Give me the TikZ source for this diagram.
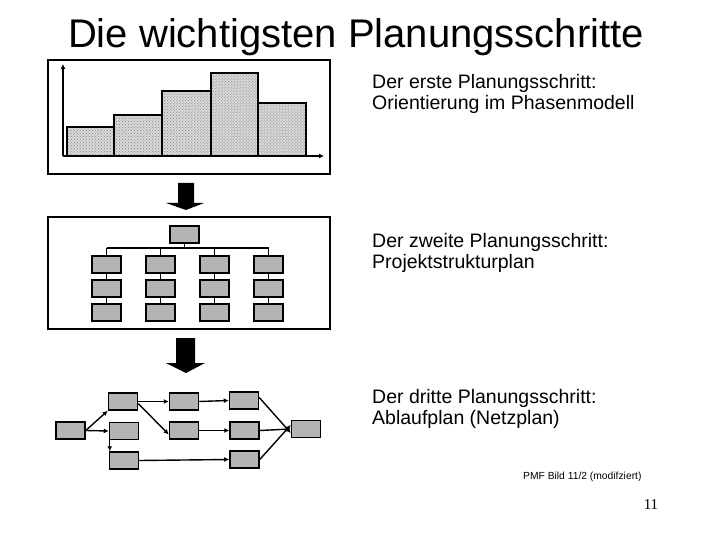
\documentclass[tikz,border=0pt]{standalone}
\usepackage{fontspec}
\setmainfont{Liberation Sans}
\newfontfamily\serifnum{Liberation Serif}
\usetikzlibrary{patterns,arrows.meta}
\definecolor{boxgray}{RGB}{180,180,180}
\begin{document}
\begin{tikzpicture}[x=1bp,y=-1bp,
  frame/.style={draw=black,line width=1.5bp},
  gbox/.style={draw=black,line width=1.5bp,fill=boxgray,inner sep=0pt},
  conn/.style={line width=1.3bp},
  arr/.style={line width=1.5bp,-{Latex[length=5bp,width=5bp]}},
  txt/.style={anchor=north west,align=left,font=\fontsize{19.5bp}{21bp}\selectfont,inner sep=0pt}]
\useasboundingbox (0,0) rectangle (720,540);
\node[font=\fontsize{40bp}{44bp}\selectfont] (title) at (356,37) {Die wichtigsten Planungsschritte};
% frame 1: chart
\draw[frame] (48,60) rectangle (330,174);
\foreach \a/\b/\t in {67/114/127,114/162/115,162/211/91,211/258/73,258/306/103}{
  \fill[black!15] (\a,\t) rectangle (\b,156);
  \fill[pattern=crosshatch dots,pattern color=black!50] (\a,\t) rectangle (\b,156);
  \draw[line width=1.5bp] (\a,\t) rectangle (\b,156);}
\coordinate (o) at (63,156);
\coordinate (ytop) at (63,64);
\coordinate (xend) at (324,156);
\draw[arr] (o) -- (ytop);
\draw[arr] (o) -- (xend);
% big arrows
\fill (178,183) -- (194,183) -- (194,203) -- (204,203) -- (186,210) -- (166,203) -- (178,203) -- cycle;
\fill (176,338) -- (195,338) -- (195,363) -- (205,363) -- (186,373) -- (166,363) -- (176,363) -- cycle;
% frame 2: org chart
\draw[frame] (48,217) rectangle (330,329);
\node[gbox,minimum width=29bp,minimum height=17bp] (top) at (184.5,234.5) {};
\coordinate (bus) at (184.5,248);
\draw[conn] (top.south) -- (bus);
\draw[conn] (106.5,248) -- (268.5,248);
\foreach \c/\x in {1/106.5,2/160.5,3/214.5,4/268.5}{
  \node[gbox,minimum width=29bp,minimum height=17bp] (r1\c) at (\x,264.5) {};
  \node[gbox,minimum width=29bp,minimum height=17bp] (r2\c) at (\x,288.5) {};
  \node[gbox,minimum width=29bp,minimum height=17bp] (r3\c) at (\x,312.5) {};
  \draw[conn] (\x,248) -- (r1\c.north);
  \draw[conn] (r1\c) -- (r2\c);
  \draw[conn] (r2\c) -- (r3\c);}
% network
\tikzset{nb/.style={gbox,minimum width=29bp,minimum height=17bp}}
\node[nb] (A) at (70.5,430.5) {};
\node[nb] (B1) at (123,401.5) {};
\node[nb] (B2) at (124,431) {};
\node[nb] (B3) at (124,460.5) {};
\node[nb] (C1) at (184,401.5) {};
\node[nb] (C2) at (184,430.5) {};
\node[nb] (D1) at (244,400.5) {};
\node[nb] (D2) at (244.5,430.5) {};
\node[nb] (D3) at (244.5,459.5) {};
\node[nb] (E) at (306,429) {};
\tikzset{na/.style={line width=1.4bp,-{Latex[length=5bp,width=5bp]}}}
\draw[na] (A.east) -- (B1.south west);
\draw[na] (A.east) -- (B2.west);
\draw[na] ([xshift=1bp]B2.south west) -- ([xshift=1bp]B3.north west);
\draw[na] (B1.east) -- (C1.west);
\draw[na] ([yshift=-2bp]B1.east) -- ([yshift=-4bp]C2.west);
\draw[na] (C1.east) -- (D1.west);
\draw[na] (C2.east) -- (D2.west);
\draw[na] (B3.east) -- (D3.west);
\draw[na] ([yshift=3bp]D1.east) -- ([yshift=-4bp]E.west);
\draw[na] (D2.east) -- (E.west);
\draw[na] (D3.east) -- ([yshift=4bp]E.west);
% texts
\node[txt] (t1) at (372,74) {Der erste Planungsschritt:\\Orientierung im Phasenmodell};
\node[txt] (t2) at (372,233) {Der zweite Planungsschritt:\\Projektstrukturplan};
\node[txt] (t3) at (372,389) {Der dritte Planungsschritt:\\Ablaufplan (Netzplan)};
\node[anchor=west,inner sep=0pt,font=\fontsize{10.3bp}{12bp}\selectfont] (src) at (523,477) {PMF Bild 11/2 (modifziert)};
\node[anchor=center,inner sep=0pt,font=\serifnum\fontsize{15bp}{16bp}\selectfont] (pg) at (651,505) {11};
\end{tikzpicture}
\end{document}
